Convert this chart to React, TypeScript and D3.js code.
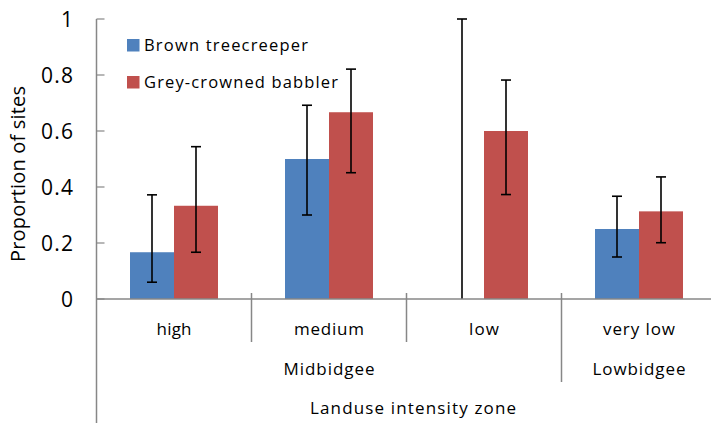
import React from "react";
import * as d3 from "d3";

// Landuse intensity categories, grouped into two river zones
const categories = ["high", "medium", "low", "very low"];
const zones = [
  { name: "Midbidgee", from: 0, to: 3 },
  { name: "Lowbidgee", from: 3, to: 4 },
];
const seriesNames = ["Brown treecreeper", "Grey-crowned babbler"];
const seriesColors = ["#4F81BD", "#C0504D"];

// Proportion of sites occupied, with lower / upper confidence limits
const treecreeperValues = [0.167, 0.5, 0, 0.25];
const treecreeperLower = [0.06, 0.3, 0, 0.15];
const treecreeperUpper = [0.372, 0.692, 1.0, 0.367];

const babblerValues = [0.333, 0.667, 0.6, 0.313];
const babblerLower = [0.167, 0.451, 0.373, 0.201];
const babblerUpper = [0.544, 0.821, 0.782, 0.436];

const yTicks = [0, 0.2, 0.4, 0.6, 0.8, 1];

const series = [
  { values: treecreeperValues, lower: treecreeperLower, upper: treecreeperUpper },
  { values: babblerValues, lower: babblerLower, upper: babblerUpper },
];

// Rendered widths of the labels (the wide, loosely spaced office-style type)
const textWidths: Record<string, number> = {
  "Brown treecreeper": 164,
  "Grey-crowned babbler": 194,
  "Proportion of sites": 176,
  high: 35,
  medium: 70,
  low: 30,
  "very low": 72,
  Midbidgee: 91,
  Lowbidgee: 93,
  "Landuse intensity zone": 206,
};

const W = 711;
const H = 423;
const FONT = "'Open Sans', 'Noto Sans', sans-serif";

export default function App() {
  const x0 = 96.5;
  const catW = 155;
  const x = d3
    .scaleBand<string>()
    .domain(categories)
    .range([x0, x0 + catW * categories.length])
    .paddingInner(0)
    .paddingOuter(0);
  const barW = 44;
  const y = d3.scaleLinear().domain([0, 1]).range([299, 19]);
  const axisColor = "#878787";
  const fmt = d3.format("");

  const fit = (s: string) =>
    textWidths[s] ? { textLength: textWidths[s], lengthAdjust: "spacing" } : {};

  return (
    <svg
      width={W}
      height={H}
      style={{ position: "absolute", left: 0, top: 0, background: "#fff" }}
      fontFamily={FONT}
    >
      {/* bars */}
      {series.map((s, si) =>
        categories.map((c, ci) => {
          const cx = (x(c) as number) + x.bandwidth() / 2;
          const left = cx - barW + si * barW;
          const v = s.values[ci];
          return (
            <rect
              key={`b${si}-${ci}`}
              x={left}
              y={y(v)}
              width={barW}
              height={y(0) - y(v)}
              fill={seriesColors[si]}
            />
          );
        })
      )}

      {/* error bars */}
      {series.map((s, si) =>
        categories.map((c, ci) => {
          const cx = (x(c) as number) + x.bandwidth() / 2 - barW / 2 + si * barW;
          const lo = y(s.lower[ci]);
          const hi = y(s.upper[ci]);
          return (
            <g key={`e${si}-${ci}`} stroke="#000" strokeWidth={1.6}>
              <line x1={cx} x2={cx} y1={lo} y2={hi} />
              <line x1={cx - 5} x2={cx + 5} y1={hi} y2={hi} />
              {s.lower[ci] > 0 && <line x1={cx - 5} x2={cx + 5} y1={lo} y2={lo} />}
            </g>
          );
        })
      )}

      {/* y axis */}
      <line x1={x0} x2={x0} y1={y(1)} y2={H} stroke={axisColor} strokeWidth={1.5} />
      {yTicks.map((t) => {
        const label = fmt(t);
        return (
          <g key={t}>
            <line x1={x0} x2={x0 + 8} y1={y(t)} y2={y(t)} stroke={axisColor} strokeWidth={1.2} />
            <text
              x={73}
              y={y(t)}
              dy="0.36em"
              textAnchor="end"
              fontSize={21}
              fill="#000"
              {...(label.length > 1 ? { textLength: 32, lengthAdjust: "spacing" } : {})}
            >
              {label}
            </text>
          </g>
        );
      })}
      <text
        transform={`translate(25,174) rotate(-90)`}
        textAnchor="middle"
        fontSize={20}
        fill="#000"
        {...fit("Proportion of sites")}
      >
        Proportion of sites
      </text>

      {/* x axis */}
      <line x1={x0} x2={W} y1={y(0)} y2={y(0)} stroke={axisColor} strokeWidth={1.5} />
      {categories.map((c, ci) =>
        ci > 0 ? (
          <line
            key={`d${ci}`}
            x1={x(c)}
            x2={x(c)}
            y1={y(0) - 6}
            y2={ci === 3 ? 382 : 342}
            stroke={axisColor}
            strokeWidth={1.5}
          />
        ) : null
      )}
      {categories.map((c) => (
        <text
          key={`l${c}`}
          x={(x(c) as number) + x.bandwidth() / 2}
          y={335}
          textAnchor="middle"
          fontSize={17}
          fill="#000"
          {...fit(c)}
        >
          {c}
        </text>
      ))}
      {zones.map((z) => (
        <text
          key={z.name}
          x={x0 + catW * ((z.from + z.to) / 2)}
          y={375}
          textAnchor="middle"
          fontSize={17}
          fill="#000"
          {...fit(z.name)}
        >
          {z.name}
        </text>
      ))}
      <text
        x={413}
        y={414}
        textAnchor="middle"
        fontSize={17}
        fill="#000"
        {...fit("Landuse intensity zone")}
      >
        Landuse intensity zone
      </text>

      {/* legend */}
      {seriesNames.map((n, i) => (
        <g key={n} transform={`translate(127,${39 + i * 37})`}>
          <rect x={0} y={0} width={12.5} height={12.5} fill={seriesColors[i]} />
          <text x={17} y={12.3} fontSize={16.5} fill="#000" {...fit(n)}>
            {n}
          </text>
        </g>
      ))}
    </svg>
  );
}
